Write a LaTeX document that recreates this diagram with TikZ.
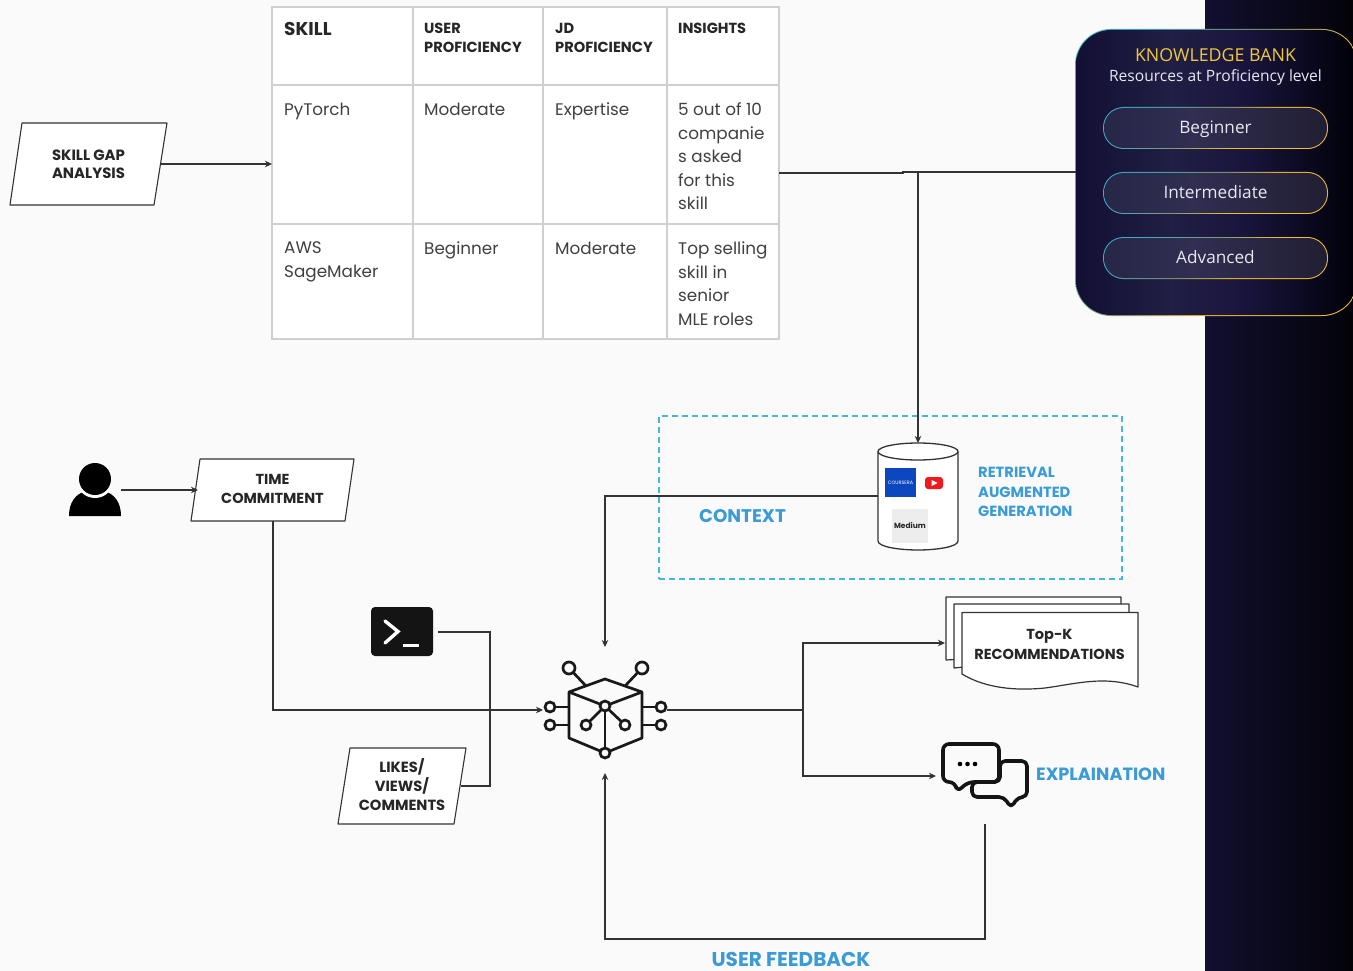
\documentclass[tikz,border=0pt]{standalone}
\usepackage{fontspec}
\setmainfont{Poppins}
\newfontfamily\kbfont{Open Sans}
\usetikzlibrary{arrows.meta,calc}
\definecolor{bgc}{HTML}{FAFAFA}
\definecolor{linec}{HTML}{333333}
\definecolor{gridc}{HTML}{CFCFCF}
\definecolor{bluec}{HTML}{3A9BD6}
\definecolor{dashc}{HTML}{45B8D8}
\definecolor{goldc}{HTML}{F0C93A}
\definecolor{pilltext}{HTML}{E8E8EE}
\definecolor{panelL}{HTML}{120F30}
\definecolor{panelR}{HTML}{030308}
\definecolor{logoblue}{HTML}{0D47BF}
\definecolor{logored}{HTML}{EE1A1F}
\pgfdeclarehorizontalshading{kbborder}{100bp}{rgb(0bp)=(0.25,0.68,0.78); rgb(25bp)=(0.25,0.68,0.78); rgb(45bp)=(0.50,0.60,0.45); rgb(60bp)=(0.95,0.75,0.2); rgb(100bp)=(0.95,0.75,0.2)}
\pgfdeclarehorizontalshading{kbfill}{100bp}{rgb(0bp)=(0.07,0.06,0.20); rgb(25bp)=(0.07,0.06,0.20); rgb(42bp)=(0.13,0.12,0.27); rgb(55bp)=(0.10,0.08,0.24); rgb(75bp)=(0.0,0.0,0.03); rgb(100bp)=(0.0,0.0,0.03)}
\pgfdeclarehorizontalshading{pillfill}{100bp}{rgb(0bp)=(0.15,0.15,0.28); rgb(25bp)=(0.15,0.15,0.28); rgb(45bp)=(0.19,0.18,0.32); rgb(75bp)=(0.13,0.12,0.20); rgb(100bp)=(0.13,0.12,0.20)}
\tikzset{
  x=1pt,y=-1pt,
  conn/.style={draw=linec,line width=1.4pt},
  arr/.style={conn,-{Stealth[length=7pt,width=6.5pt]}},
  para/.style={draw=linec,line width=1.1pt,fill=white,line join=round},
  box/.style={font=\fontsize{14.5}{18.5}\selectfont\bfseries,align=center,text=black!85,inner sep=0pt},
  cell/.style={anchor=north west,inner sep=0pt,align=left,text=black!75,font=\fontsize{16.8}{23.6}\selectfont},
  head/.style={anchor=north west,inner sep=0pt,align=left,text=black!85,font=\fontsize{14.6}{19}\selectfont\bfseries},
  icon/.style={draw=black!90,line width=2.7pt,line join=round},
  ring/.style={circle,draw=black!90,line width=2.7pt,fill=bgc,inner sep=0pt},
  pilltxt/.style={font=\kbfont\fontsize{17.2}{20}\selectfont,text=pilltext,anchor=base},
  bluetxt/.style={text=bluec,font=\bfseries,inner sep=0pt},
}
\newcommand{\kbpill}[5]{% name, top, bottom, baseline, label
  \path[rounded corners=20.5pt,shading=kbborder,shading angle=-50] (1103,#2) rectangle (1328,#3);
  \path[rounded corners=19.5pt,shading=pillfill] (1104,#2+1) rectangle (1327,#3-1);
  \node[pilltxt] (#1) at (1215.5,#4) {#5};
}
\begin{document}
\begin{tikzpicture}
\useasboundingbox (0,0) rectangle (1353,971);
% backgrounds
\fill[bgc] (0,0) rectangle (1205,971);
\shade[left color=panelL,right color=panelR] (1205,0) rectangle (1353,971);

% table
\node[draw=gridc,line width=1.2pt,fill=white,minimum width=507pt,minimum height=332pt,inner sep=0pt] (tbl) at (525.5,173) {};
\foreach \xx in {413,543,667}{\draw[gridc,line width=1.2pt] (\xx,7) -- (\xx,339);}
\foreach \yy in {85,224}{\draw[gridc,line width=1.2pt] (272,\yy) -- (779,\yy);}
\node[head,font=\fontsize{18.5}{20}\selectfont\bfseries] (h1) at (284,22) {SKILL};
\node[head] (h2) at (424,23) {USER\\PROFICIENCY};
\node[head] (h3) at (555,23) {JD\\PROFICIENCY};
\node[head] (h4) at (678,23) {INSIGHTS};
\node[cell] (c11) at (284,102.5) {PyTorch};
\node[cell] (c12) at (424,102.5) {Moderate};
\node[cell] (c13) at (555,102.5) {Expertise};
\node[cell] (c14) at (678,102.5) {5 out of 10\\companie\\s asked\\for this\\skill};
\node[cell] (c21) at (284,241.5) {AWS\\SageMaker};
\node[cell] (c22) at (424,241.5) {Beginner};
\node[cell] (c23) at (555,241.5) {Moderate};
\node[cell] (c24) at (678,241.5) {Top selling\\skill in\\senior\\MLE roles};

% knowledge bank
\path[rounded corners=36pt,shading=kbborder,shading angle=-30] (1075,29) rectangle (1358,316);
\path[rounded corners=35pt,shading=kbfill] (1076,30) rectangle (1357,315);
\node[font=\kbfont\fontsize{17.8}{20}\selectfont,text=goldc] (kb1) at (1215.5,55) {KNOWLEDGE BANK};
\node[font=\kbfont\fontsize{15.6}{18}\selectfont,text=pilltext] (kb2) at (1215.5,77) {Resources at Proficiency level};
\kbpill{p1}{107}{149}{133.5}{Beginner}
\kbpill{p2}{172}{214}{198}{Intermediate}
\kbpill{p3}{237}{279}{263}{Advanced}
\coordinate (kbw) at (1076,172);
\coordinate (tblr) at (779,173);
\coordinate (tbll) at (272,164);

% skill gap
\path[para] (22,123) -- (167,123) -- (154,205) -- (10,205) -- cycle;
\node[box,font=\fontsize{14.9}{18}\selectfont\bfseries] (gap) at (88.5,164) {SKILL GAP\\ANALYSIS};
\coordinate (gape) at (160,164);
\draw[arr] (gape) -- (tbll);

% person
\fill[black] (69,516) .. controls (69,503) and (75,494) .. (86,491) -- (104,491) .. controls (115,494) and (121,503) .. (121,516) -- cycle;
\fill[bgc] (95,479) circle (19);
\fill[black] (95,479) circle (16);
\coordinate (person) at (121,490);

% time
\path[para] (200,459) -- (354,459) -- (345,521) -- (191,521) -- cycle;
\node[box] (time) at (272.5,489) {TIME\\COMMITMENT};
\coordinate (timew) at (198,490);
\coordinate (times) at (273,521);
\draw[arr] (person) -- (timew);

% terminal
\node[fill=black!92,rounded corners=4pt,minimum width=62pt,minimum height=49pt,inner sep=0pt] (term) at (402,631.5) {};
\draw[white,line width=3.4pt,line join=miter,line cap=round] (385,621) -- (398,631.5) -- (385,643);
\draw[white,line width=3.2pt] (403,645.5) -- (419,645.5);
\coordinate (terme) at (438,632);

% likes
\path[para] (350,748) -- (466,748) -- (454,824) -- (338,824) -- cycle;
\node[box,font=\fontsize{14.7}{19}\selectfont\bfseries] (likes) at (402,784.5) {LIKES/\\VIEWS/\\COMMENTS};
\coordinate (likese) at (461,786);

% hub
\coordinate (hubw) at (543,710);
\coordinate (hubo) at (667,710);
\coordinate (hubn) at (605,647);
\coordinate (hubs) at (605,773);
\draw[icon] (569,692) -- (605,679) -- (642,692) -- (642,738) -- (605,753) -- (569,738) -- cycle;
\draw[icon] (569,692) -- (605,706) -- (642,692);
\draw[icon] (605,706) -- (605,753);
\draw[icon] (605,706) -- (586,725);
\draw[icon] (605,706) -- (625,725);
\draw[icon] (586,686) -- (569,668);
\draw[icon] (625,686) -- (642,668);
\draw[icon] (550,707) -- (569,707);
\draw[icon] (550,725) -- (569,725);
\draw[icon] (642,707) -- (661,707);
\draw[icon] (642,725) -- (661,725);
\foreach \n/\px/\py/\d in {a/569/668/12,b/642/668/12,c/550/707/10,d/550/725/10,e/661/707/10,f/661/725/10,g/586/725/10,h/625/725/10,i/605/706/10,j/605/753/10}{
  \node[ring,minimum size=\d pt] (ring\n) at (\px,\py) {};
}

% connectors to hub
\draw[arr] (times) -- (273,710) -- (hubw);
\draw[conn] (terme) -- (490,632) -- (490,786) -- (likese);

% table to KB and RAG
\coordinate (ragn) at (918,443);
\draw[conn] (tblr) -- (903,173) -- (903,172) -- (kbw);

% dashed box
\node[draw=dashc,line width=1.4pt,dash pattern=on 6pt off 4pt,minimum width=463pt,minimum height=163pt,inner sep=0pt] (ragbox) at (890.5,497.5) {};

% cylinder
\path[draw=linec,line width=1.3pt,fill=white] (878,452) -- (878,541) .. controls (878,547) and (900,550) .. (918,550) .. controls (936,550) and (958,547) .. (958,541) -- (958,452);
\path[draw=linec,line width=1.3pt,fill=white] (918,451.5) ellipse [x radius=40,y radius=8.5];
\coordinate (cylw) at (878,496);
\draw[arr] (918,172) -- (ragn);
\node[fill=logoblue,minimum width=31pt,minimum height=29pt,inner sep=0pt,text=white,font=\fontsize{4.8}{5}\selectfont] (logo1) at (900.5,482.5) {COURSERA};
\node[fill=logored,rounded corners=3pt,minimum width=18pt,minimum height=12pt,inner sep=0pt] (logo2) at (934,483) {};
\fill[white] (931.5,480) -- (937.5,483) -- (931.5,486) -- cycle;
\node[fill=black!7,minimum width=36pt,minimum height=34pt,inner sep=0pt,text=black!85,font=\fontsize{7.5}{8}\selectfont\bfseries] (logo3) at (910,526) {Medium};
\draw[arr] (cylw) -- (605,496) -- (hubn);

\node[bluetxt,font=\fontsize{18.3}{20}\selectfont\bfseries] (ctx) at (742.5,516) {CONTEXT};
\node[bluetxt,font=\fontsize{14.7}{19.5}\selectfont\bfseries,align=left,anchor=west] (rag) at (978,492) {RETRIEVAL\\AUGMENTED\\GENERATION};

% documents
\path[draw=linec,line width=1.2pt,fill=white,line join=round] (946,597) -- (1121,597) -- (1121,650) -- (946,660) -- cycle;
\path[draw=linec,line width=1.2pt,fill=white,line join=round] (954,604) -- (1129,604) -- (1129,650) -- (954,668) -- cycle;
\path[draw=linec,line width=1.2pt,fill=white,line join=round] (962,612.5) -- (1138,612.5) -- (1138,687) .. controls (1105,675) and (1075,684) .. (1045,688) .. controls (1015,691) and (985,688) .. (962,674) -- cycle;
\node[box,font=\fontsize{14.5}{20}\selectfont\bfseries] (recs) at (1049.5,644) {Top-K\\RECOMMENDATIONS};
\coordinate (recw) at (945,643);

% chat icon
\begin{scope}[line width=3.6pt,line join=round]
\draw[black!92,fill=bgc,rounded corners=5pt] (1000,761) -- (1027,761) -- (1027,797) -- (1018,797) -- (1011,808) -- (1004,797) -- (972,797) -- (972,782) -- (1000,782) -- cycle;
\draw[black!92,fill=bgc,rounded corners=6pt] (943,744) -- (999,744) -- (999,782) -- (968,782) -- (957,792) -- (955,782) -- (943,782) -- cycle;
\end{scope}
\fill[black] (960,764) circle (2.3) (967.5,764) circle (2.3) (975,764) circle (2.3);
\node[inner sep=0pt,minimum width=88pt,minimum height=68pt] (chat) at (985,776) {};
\coordinate (chatw) at (936,776);
\coordinate (chats) at (985,824);

% outputs
\coordinate (split) at (803,710);
\draw[conn] (hubo) -- (split);
\draw[arr] (split) -- (803,643) -- (recw);
\draw[arr] (split) -- (803,776) -- (chatw);
\draw[arr] (chats) -- (985,939) -- (605,939) -- (hubs);

\node[bluetxt,font=\fontsize{17.7}{20}\selectfont\bfseries,anchor=west] (expl) at (1036,774) {EXPLAINATION};
\node[bluetxt,font=\fontsize{20}{20}\selectfont\bfseries] (fb) at (791,959.5) {USER FEEDBACK};
\end{tikzpicture}
\end{document}
